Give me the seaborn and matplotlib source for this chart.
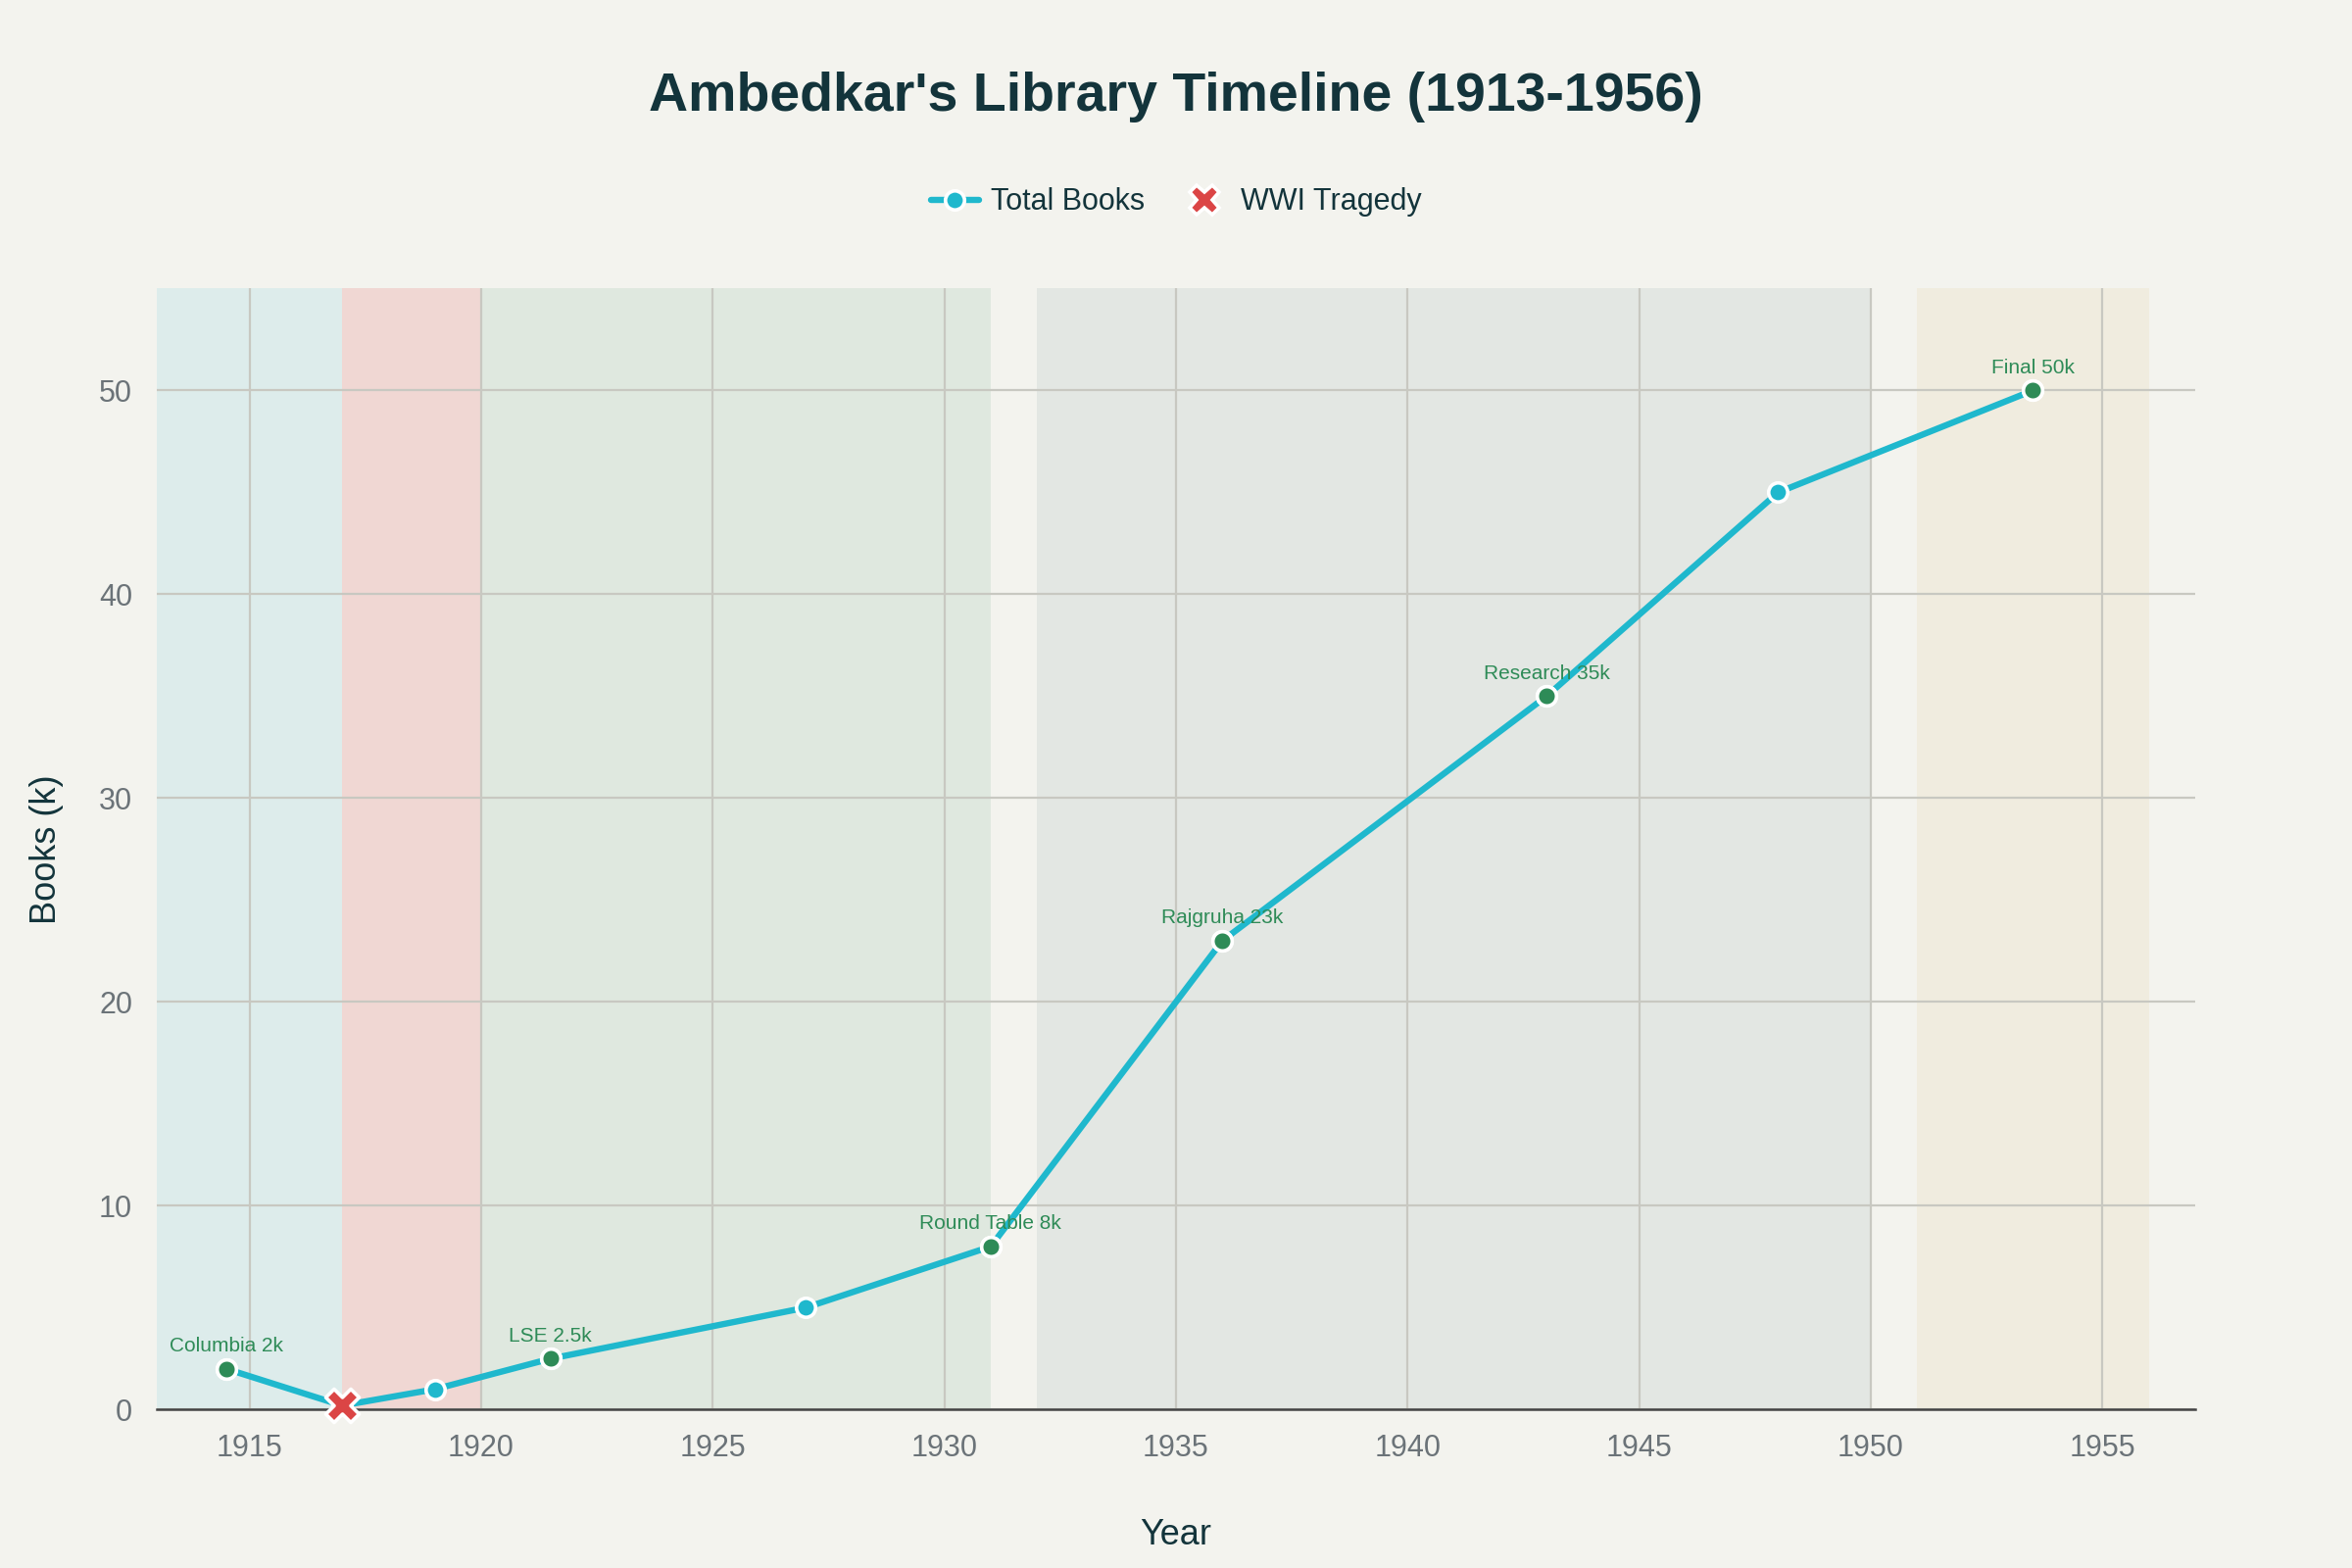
import matplotlib
matplotlib.use('Agg')
import matplotlib.pyplot as plt
from matplotlib.lines import Line2D
import seaborn as sns
import pandas as pd

# Data
years = [1914.5, 1917, 1919, 1921.5, 1927, 1931, 1936, 1943, 1948, 1953.5]
books = [2, 0.2, 1, 2.5, 5, 8, 23, 35, 45, 50]

milestone_years = [1914.5, 1921.5, 1931, 1936, 1943, 1953.5]
milestone_books = [2, 2.5, 8, 23, 35, 50]
milestone_labels = ['Columbia 2k', 'LSE 2.5k', 'Round Table 8k', 'Rajgruha 23k', 'Research 35k', 'Final 50k']

tragedy_year = [1917]
tragedy_books = [0.2]

era_starts = [1913, 1917, 1920, 1932, 1951]
era_ends = [1917, 1920, 1931, 1950, 1956]
era_colors = ['#DDECEB', '#F0D7D3', '#DFE8DF', '#E3E7E3', '#F0ECDF']

xticks = [1915, 1920, 1925, 1930, 1935, 1940, 1945, 1950, 1955]
yticks = [0, 10, 20, 30, 40, 50]

# Colours
bg = '#F3F3EE'
cyan = '#1FB8CD'
green = '#2E8B57'
red = '#DB4545'
dark = '#13343B'
grid_c = '#C8C8C1'

sns.set_theme(style='white')
plt.rcParams['font.family'] = ['Liberation Sans', 'DejaVu Sans']

fig = plt.figure(figsize=(12, 8), dpi=200, facecolor=bg)
ax = fig.add_axes([0.0667, 0.101, 0.8666, 0.715])
ax.set_facecolor(bg)

# Era shading
for s, e, c in zip(era_starts, era_ends, era_colors):
    ax.axvspan(s, e, color=c, zorder=0, lw=0)

df = pd.DataFrame({'year': years, 'books': books})
sns.lineplot(data=df, x='year', y='books', ax=ax, color=cyan, lw=2.3,
             marker='o', markersize=7, markerfacecolor=cyan,
             markeredgecolor='white', markeredgewidth=1.3, zorder=3, clip_on=False)

ax.scatter(milestone_years, milestone_books, s=50, color=green,
           edgecolor='white', linewidth=1.3, zorder=4, clip_on=False)
ax.scatter(tragedy_year, tragedy_books, s=150, marker='X', color=red,
           edgecolor='white', linewidth=1.3, zorder=5, clip_on=False)

for x, y, t in zip(milestone_years, milestone_books, milestone_labels):
    ax.annotate(t, (x, y), xytext=(0, 5), textcoords='offset points',
                ha='center', va='bottom', fontsize=7.5, color=green, zorder=6)

ax.set_xlim(1913, 1957)
ax.set_ylim(0, 55)
ax.set_xticks(xticks)
ax.set_yticks(yticks)
ax.grid(True, color=grid_c, lw=0.8)
ax.set_axisbelow(True)
for sp in ['top', 'right', 'left']:
    ax.spines[sp].set_visible(False)
ax.spines['bottom'].set_color('#444444')
ax.spines['bottom'].set_linewidth(0.9)
ax.spines['bottom'].set_zorder(2)
ax.tick_params(axis='both', length=5, color=grid_c, labelsize=11, labelcolor='#6B7378', pad=4)

ax.set_xlabel('Year', fontsize=13, color=dark, labelpad=20)
ax.set_ylabel('Books (k)', fontsize=13, color=dark, labelpad=13)

fig.suptitle("Ambedkar's Library Timeline (1913-1956)", fontsize=20, fontweight='bold',
             color=dark, y=0.938, va='center')

handles = [
    Line2D([], [], color=cyan, lw=2.3, marker='o', markersize=7, markerfacecolor=cyan,
           markeredgecolor='white', markeredgewidth=1.3, label='Total Books'),
    Line2D([], [], color=red, lw=0, marker='X', markersize=11, markeredgecolor='white',
           markeredgewidth=1.3, label='WWI Tragedy'),
]
fig.legend(handles=handles, loc='center', bbox_to_anchor=(0.5, 0.871), ncol=2, frameon=False,
           fontsize=11, labelcolor=dark, handlelength=1.6, columnspacing=1.2, handletextpad=0.4)

fig.savefig('out.png', dpi=200, facecolor=bg)
